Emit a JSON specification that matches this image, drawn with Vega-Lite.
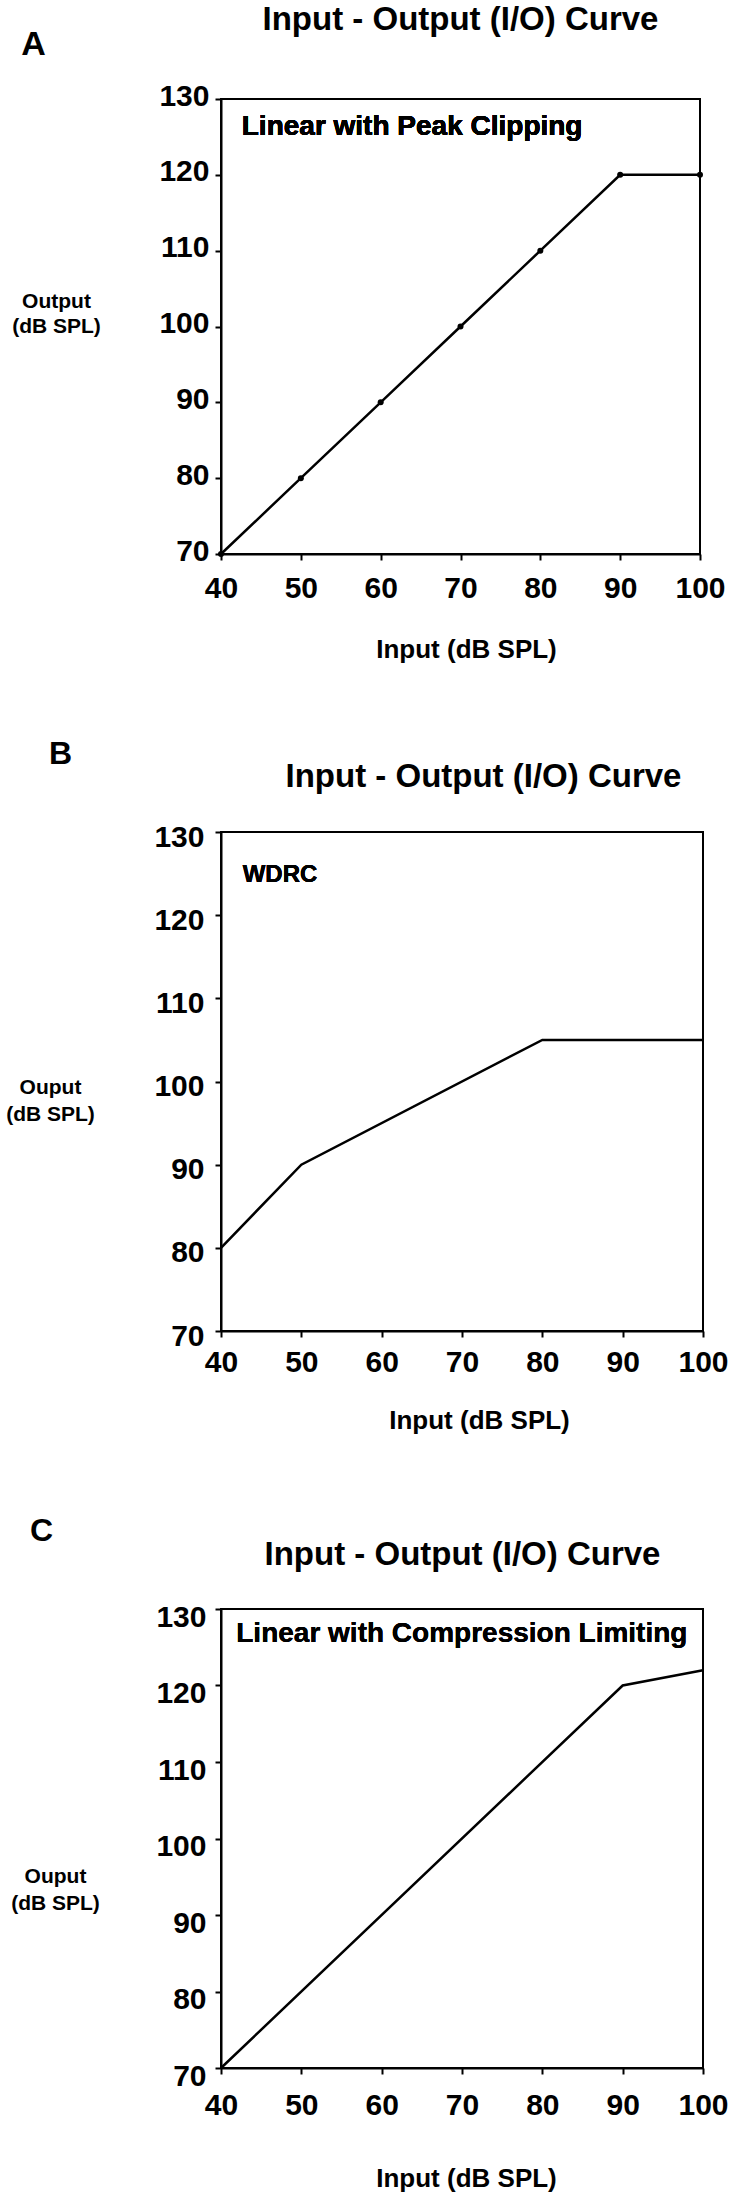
{
  "$schema": "https://vega.github.io/schema/vega-lite/v6.json",
  "background": "white",
  "padding": {"left": 4, "top": 2, "right": 0, "bottom": 0},
  "bounds": "flush",
  "spacing": 278,
  "config": {
    "font": "Liberation Sans",
    "view": {"stroke": "black", "strokeWidth": 2},
    "axis": {
      "grid": false,
      "domainColor": "black",
      "domainWidth": 2,
      "tickColor": "black",
      "tickWidth": 2,
      "tickSize": 6,
      "labelFlush": false,
      "labelOverlap": false,
      "labelFont": "Liberation Sans",
      "labelFontWeight": "bold",
      "labelFontSize": 30,
      "labelColor": "black",
      "titleFont": "Liberation Sans",
      "titleFontWeight": "bold",
      "titleColor": "black"
    }
  },
  "vconcat": [
    {
      "width": 479,
      "height": 455,
      "data": {"values": [
        {"input": 40, "output": 70},
        {"input": 50, "output": 80},
        {"input": 60, "output": 90},
        {"input": 70, "output": 100},
        {"input": 80, "output": 110},
        {"input": 90, "output": 120},
        {"input": 100, "output": 120}
      ]},
      "layer": [
        {
          "mark": {"type": "line", "color": "black", "strokeWidth": 2.5},
          "encoding": {
            "x": {"field": "input", "type": "quantitative", "scale": {"domain": [40, 100], "nice": false, "zero": false},
              "axis": {"orient": "bottom", "values": [40, 50, 60, 70, 80, 90, 100], "labelPadding": 13, "title": "Input (dB SPL)", "titleFontSize": 26, "titleX": 245, "titleY": 95, "titleAlign": "center", "titleBaseline": "middle"}},
            "y": {"field": "output", "type": "quantitative", "scale": {"domain": [70, 130], "nice": false, "zero": false},
              "axis": {"orient": "left", "values": [70, 80, 90, 100, 110, 120, 130], "labelPadding": 6, "labelOffset": -3, "title": ["Output", "(dB SPL)"], "titleFontSize": 21, "titleLineHeight": 25, "titleAngle": 0, "titleAlign": "center", "titleBaseline": "middle", "titleX": -165, "titleY": 202}}
          }
        },
        {
          "mark": {"type": "point", "filled": true, "color": "black", "opacity": 1, "size": 36},
          "encoding": {
            "x": {"field": "input", "type": "quantitative", "scale": {"domain": [40, 100], "nice": false, "zero": false}, "axis": null},
            "y": {"field": "output", "type": "quantitative", "scale": {"domain": [70, 130], "nice": false, "zero": false}, "axis": null}
          }
        },
        {
          "mark": {"type": "text", "text": "Linear with Peak Clipping", "align": "left", "baseline": "middle", "font": "Liberation Sans", "fontWeight": "bold", "fontSize": 28, "color": "black"},
          "encoding": {
            "x": {"datum": 42.6, "type": "quantitative", "scale": {"domain": [40, 100], "nice": false, "zero": false},
              "axis": {"orient": "top", "domain": false, "ticks": false, "labels": false, "title": "Input - Output (I/O) Curve", "titleFontSize": 33, "titleX": 239, "titleY": -70, "titleAlign": "center", "titleBaseline": "alphabetic"}},
            "y": {"datum": 126.3, "type": "quantitative", "scale": {"domain": [70, 130], "nice": false, "zero": false},
              "axis": {"orient": "right", "domain": false, "ticks": false, "labels": false, "title": "A", "titleFontSize": 34, "titleAngle": 0, "titleX": -667, "titleY": -45, "titleAlign": "center", "titleBaseline": "alphabetic"}}
          }
        }
      ],
      "resolve": {"axis": {"x": "independent", "y": "independent"}}
    },
    {
      "width": 482,
      "height": 499,
      "data": {"values": [
        {"input": 40, "output": 80},
        {"input": 50, "output": 90},
        {"input": 80, "output": 105},
        {"input": 100, "output": 105}
      ]},
      "layer": [
        {
          "mark": {"type": "line", "color": "black", "strokeWidth": 2.5},
          "encoding": {
            "x": {"field": "input", "type": "quantitative", "scale": {"domain": [40, 100], "nice": false, "zero": false},
              "axis": {"orient": "bottom", "values": [40, 50, 60, 70, 80, 90, 100], "labelPadding": 10, "title": "Input (dB SPL)", "titleFontSize": 26, "titleX": 258, "titleY": 89, "titleAlign": "center", "titleBaseline": "middle"}},
            "y": {"field": "output", "type": "quantitative", "scale": {"domain": [70, 130], "nice": false, "zero": false},
              "axis": {"orient": "left", "values": [70, 80, 90, 100, 110, 120, 130], "labelPadding": 11, "labelOffset": 5, "title": ["Ouput", "(dB SPL)"], "titleFontSize": 21, "titleLineHeight": 27, "titleAngle": 0, "titleAlign": "center", "titleBaseline": "middle", "titleX": -171, "titleY": 255}}
          }
        },
        {
          "mark": {"type": "text", "text": "WDRC", "align": "left", "baseline": "middle", "font": "Liberation Sans", "fontWeight": "bold", "fontSize": 24, "color": "black"},
          "encoding": {
            "x": {"datum": 42.7, "type": "quantitative", "scale": {"domain": [40, 100], "nice": false, "zero": false},
              "axis": {"orient": "top", "domain": false, "ticks": false, "labels": false, "title": "Input - Output (I/O) Curve", "titleFontSize": 33, "titleX": 262, "titleY": -46, "titleAlign": "center", "titleBaseline": "alphabetic"}},
            "y": {"datum": 124.8, "type": "quantitative", "scale": {"domain": [70, 130], "nice": false, "zero": false},
              "axis": {"orient": "right", "domain": false, "ticks": false, "labels": false, "title": "B", "titleFontSize": 32, "titleAngle": 0, "titleX": -643, "titleY": -69, "titleAlign": "center", "titleBaseline": "alphabetic"}}
          }
        }
      ],
      "resolve": {"axis": {"x": "independent", "y": "independent"}}
    },
    {
      "width": 482,
      "height": 459,
      "data": {"values": [
        {"input": 40, "output": 70},
        {"input": 90, "output": 120},
        {"input": 100, "output": 122}
      ]},
      "layer": [
        {
          "mark": {"type": "line", "color": "black", "strokeWidth": 2.5},
          "encoding": {
            "x": {"field": "input", "type": "quantitative", "scale": {"domain": [40, 100], "nice": false, "zero": false},
              "axis": {"orient": "bottom", "values": [40, 50, 60, 70, 80, 90, 100], "labelPadding": 16, "title": "Input (dB SPL)", "titleFontSize": 26, "titleX": 245, "titleY": 110, "titleAlign": "center", "titleBaseline": "middle"}},
            "y": {"field": "output", "type": "quantitative", "scale": {"domain": [70, 130], "nice": false, "zero": false},
              "axis": {"orient": "left", "values": [70, 80, 90, 100, 110, 120, 130], "labelPadding": 9, "labelOffset": 8, "title": ["Ouput", "(dB SPL)"], "titleFontSize": 21, "titleLineHeight": 27, "titleAngle": 0, "titleAlign": "center", "titleBaseline": "middle", "titleX": -166, "titleY": 267}}
          }
        },
        {
          "mark": {"type": "text", "text": "Linear with Compression Limiting", "align": "left", "baseline": "middle", "font": "Liberation Sans", "fontWeight": "bold", "fontSize": 28, "color": "black"},
          "encoding": {
            "x": {"datum": 41.9, "type": "quantitative", "scale": {"domain": [40, 100], "nice": false, "zero": false},
              "axis": {"orient": "top", "domain": false, "ticks": false, "labels": false, "title": "Input - Output (I/O) Curve", "titleFontSize": 33, "titleX": 241, "titleY": -45, "titleAlign": "center", "titleBaseline": "alphabetic"}},
            "y": {"datum": 126.7, "type": "quantitative", "scale": {"domain": [70, 130], "nice": false, "zero": false},
              "axis": {"orient": "right", "domain": false, "ticks": false, "labels": false, "title": "C", "titleFontSize": 32, "titleAngle": 0, "titleX": -662, "titleY": -69, "titleAlign": "center", "titleBaseline": "alphabetic"}}
          }
        }
      ],
      "resolve": {"axis": {"x": "independent", "y": "independent"}}
    }
  ]
}
